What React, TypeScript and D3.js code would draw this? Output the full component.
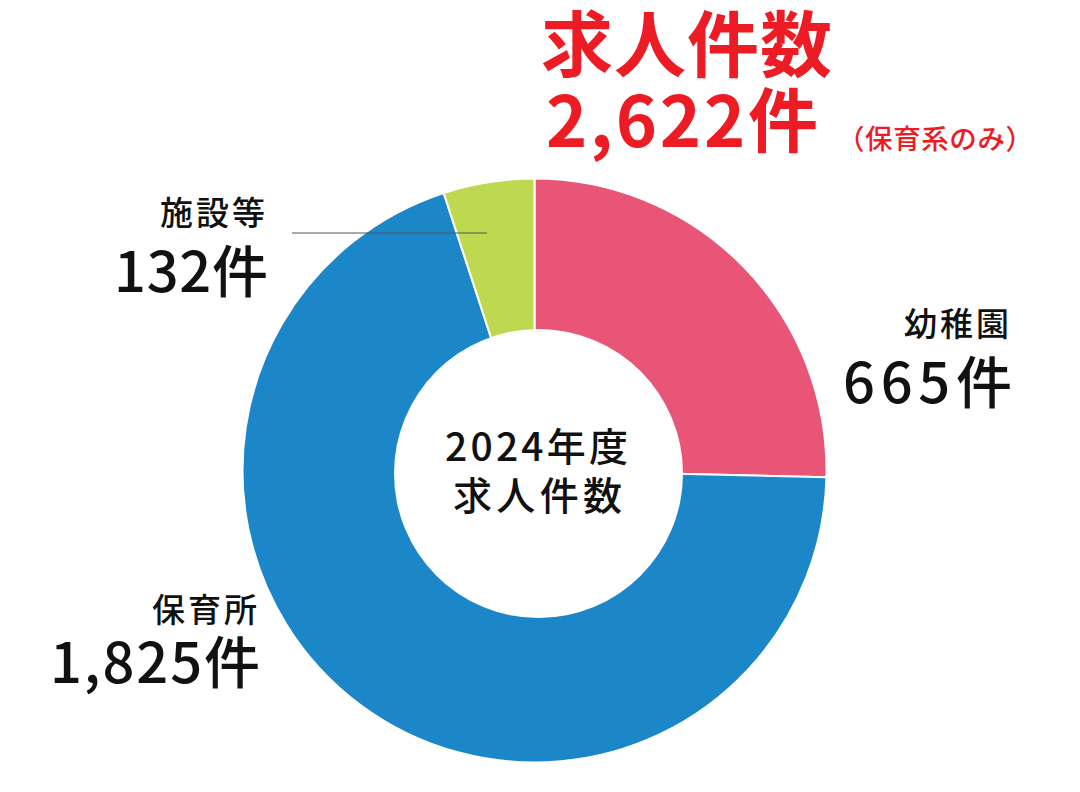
import React from "react";
import * as d3 from "d3";

const categories = ["幼稚園", "保育所", "施設等"];
const values = [665, 1825, 132];
const valueLabels = ["665件", "1,825件", "132件"];
const colors = ["#E85577", "#1B87C9", "#BED84F"];
const titleLine1 = "求人件数";
const totalLabel = "2,622件";
const totalNote = "（保育系のみ）";
const centerLine1 = "2024年度";
const centerLine2 = "求人件数";

const W = 1080;
const H = 792;
const FONT = "'Noto Sans CJK JP', 'Noto Sans', sans-serif";

export default function App() {
  const cx = 534.5;
  const cy = 470.5;
  const R = 292;
  const pie = d3.pie<number>().sort(null).value((d) => d)(values);
  const arc = d3.arc<d3.PieArcDatum<number>>().innerRadius(0).outerRadius(R);

  const labelPos = [
    { x: 1012, ny: 322, vy: 378, vw: 169 },
    { x: 260, ny: 608, vy: 658, vw: 210 },
    { x: 268, ny: 211, vy: 267, vw: 154 },
  ];

  return (
    <svg
      width={W}
      height={H}
      viewBox={`0 0 ${W} ${H}`}
      style={{ position: "absolute", left: 0, top: 0, background: "#fff" }}
    >
      <g transform={`translate(${cx},${cy})`}>
        {pie.map((p, i) => (
          <path key={i} d={arc(p) || ""} fill={colors[i]} stroke="#fff" strokeWidth={2} />
        ))}
      </g>
      <circle cx={538.5} cy={473.5} r={144.5} fill="#fff" />

      <line x1={292} y1={233} x2={487} y2={233} stroke="#555" strokeWidth={1} />

      {categories.map((c, i) => {
        const lp = labelPos[i];
        return (
          <g key={c} fontFamily={FONT} fill="#111">
            <text x={lp.x} y={lp.ny} fontSize={33} fontWeight={500} dominantBaseline="central" textAnchor="end" letterSpacing={3}>
              {c}
            </text>
            <text
              x={lp.x - lp.vw}
              y={lp.vy}
              fontSize={56}
              fontWeight={500}
              dominantBaseline="central"
              textLength={lp.vw}
              lengthAdjust="spacing"
            >
              {valueLabels[i]}
            </text>
          </g>
        );
      })}

      <g fontFamily={FONT} fill="#111" fontWeight={500}>
        <text x={445} y={444} fontSize={39} dominantBaseline="central" textLength={183} lengthAdjust="spacing">
          {centerLine1}
        </text>
        <text x={453} y={493} fontSize={39} dominantBaseline="central" textLength={169} lengthAdjust="spacing">
          {centerLine2}
        </text>
      </g>

      <g fontFamily={FONT} fill="#ED1C24" fontWeight={700}>
        <text x={541} y={39} fontSize={72} dominantBaseline="central" textLength={291} lengthAdjust="spacing">
          {titleLine1}
        </text>
        <text x={546} y={116} fontSize={70} dominantBaseline="central" textLength={272} lengthAdjust="spacing">
          {totalLabel}
        </text>
        <text x={837} y={137} fontSize={27.5} fontWeight={500} dominantBaseline="central" textLength={196} lengthAdjust="spacing">
          {totalNote}
        </text>
      </g>
    </svg>
  );
}
